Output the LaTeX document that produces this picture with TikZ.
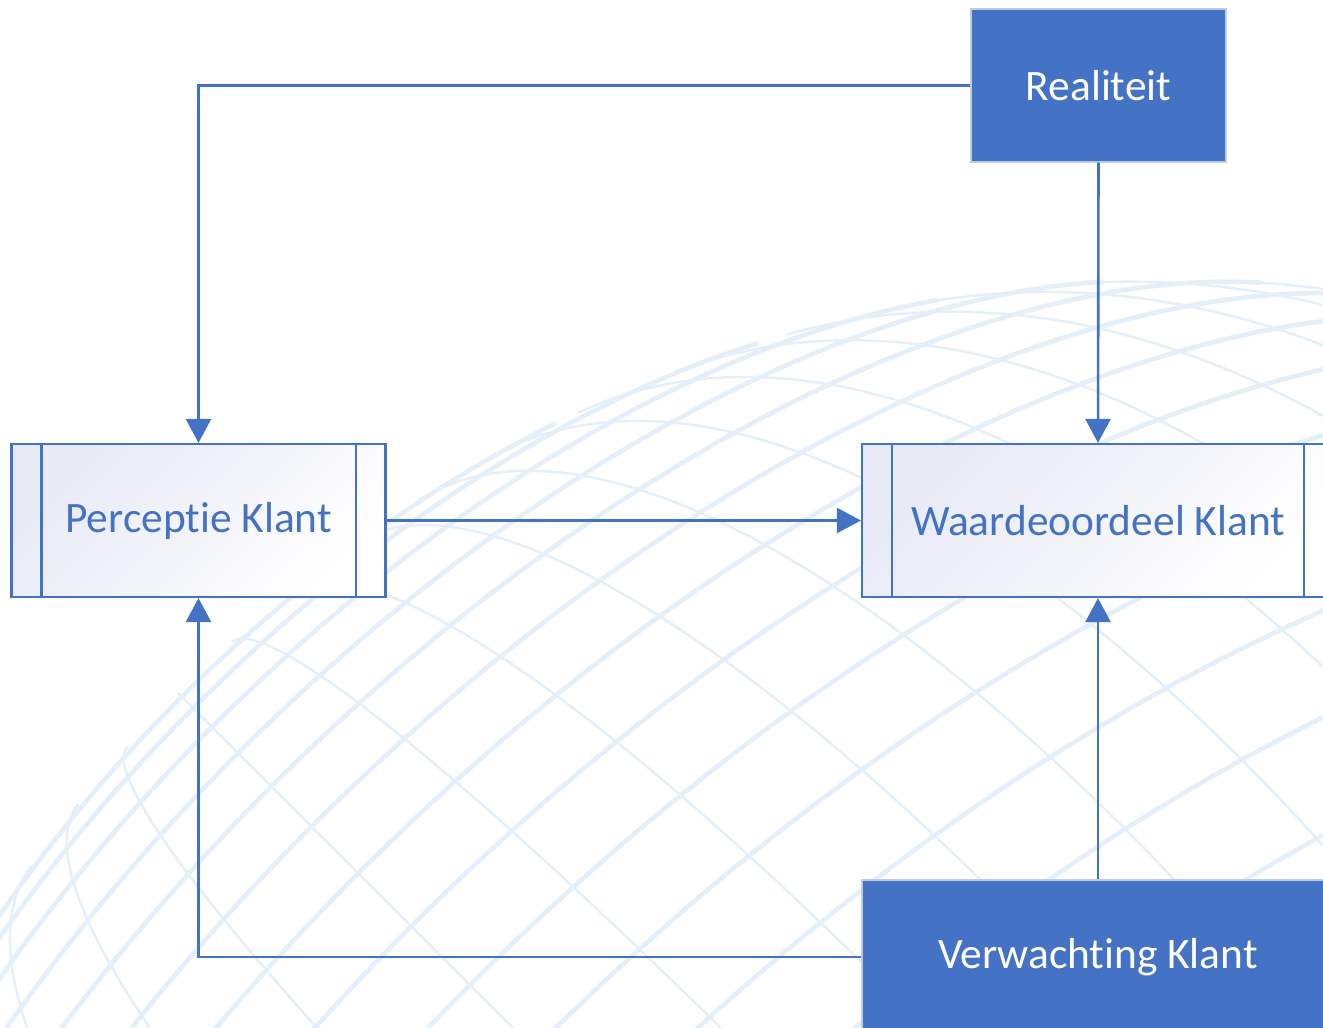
\documentclass[tikz,border=0pt]{standalone}
\usepackage{fontspec}
\setmainfont{Carlito}[RawFeature={-liga}]
\usetikzlibrary{arrows.meta}
\definecolor{accent}{HTML}{4472C4}
\definecolor{lav}{HTML}{E7E9F5}
\definecolor{globec}{HTML}{E4EFF9}
\definecolor{edgec}{HTML}{BFCBE2}
\begin{document}
\begin{tikzpicture}[x=0.5pt,y=-0.5pt,
  conn/.style={draw=accent, line width=1.3pt, -{Triangle[length=12pt,width=12.5pt]}},
  procbox/.style={draw=accent, line width=1.1pt, top color=lav, bottom color=white, shading angle=45, minimum height=76.5pt, inner sep=0pt, text=accent, font=\fontsize{21.7}{26}\selectfont},
  fillbox/.style={fill=accent, draw=edgec, line width=0.6pt, inner sep=0pt, text=white, font=\fontsize{21.7}{26}\selectfont},
  globeline/.style={draw=globec, line width=2.3pt},
  globethin/.style={draw=globec, line width=1.2pt}
]
\useasboundingbox (0,0) rectangle (1323,1028);
\clip (0,0) rectangle (1323,1028);
\fill[white] (0,0) rectangle (1323,1028);

% faint globe in the background
\begin{scope}
\def\gcx{1175}\def\gcy{1690}\def\gR{1410}
\pgfmathsetmacro\gsa{sin(30)}\pgfmathsetmacro\gca{cos(30)}
\pgfmathsetmacro\grc{cos(45)}\pgfmathsetmacro\grs{sin(45)}
\foreach \ph in {-30,-25,...,55} {
  \pgfmathsetmacro\tv{tan(\ph)*\gsa/\gca}
  \pgfmathsetmacro\lm{\tv<=-1 ? 180 : acos(\tv)}
  \draw[globeline] plot[domain=-\lm:\lm, samples=90, variable=\l, smooth]
    ({\gcx + \gR*cos(\ph)*sin(\l)*\grc - \gR*(sin(\ph)*\gca+cos(\ph)*cos(\l)*\gsa)*\grs},
     {\gcy - \gR*cos(\ph)*sin(\l)*\grs - \gR*(sin(\ph)*\gca+cos(\ph)*cos(\l)*\gsa)*\grc});
}
\foreach \lo in {-114,-108,...,114} {
  \pgfmathsetmacro\pm{atan(\gca*cos(\lo)/\gsa)}
  \draw[globethin] plot[domain=-90:\pm, samples=90, variable=\p, smooth]
    ({\gcx + \gR*cos(\p)*sin(\lo)*\grc - \gR*(sin(\p)*\gca+cos(\p)*cos(\lo)*\gsa)*\grs},
     {\gcy - \gR*cos(\p)*sin(\lo)*\grs - \gR*(sin(\p)*\gca+cos(\p)*cos(\lo)*\gsa)*\grc});
}
\end{scope}

% nodes
\node[fillbox, minimum width=127.5pt, minimum height=76.5pt] (r) at (1098.5,85.5) {Realiteit};
\node[procbox, minimum width=187pt] (p) at (198.5,520.5) {Perceptie Klant};
\node[procbox, minimum width=236pt] (w) at (1098,520.5) {Waardeoordeel Klant};
\node[fillbox, minimum width=236pt, minimum height=77pt] (v) at (1098,957) {Verwachting Klant};

\foreach \n in {p,w} {
  \draw[accent, line width=1.1pt] ([xshift=15.5pt]\n.north west) -- ([xshift=15.5pt]\n.south west);
  \draw[accent, line width=1.1pt] ([xshift=-15.5pt]\n.north east) -- ([xshift=-15.5pt]\n.south east);
}

% connectors
\draw[conn] (r.west) -| (p.north);
\draw[conn] (r.south) -- (w.north);
\draw[conn] (p.east) -- (w.west);
\draw[conn] (v.north) -- (w.south);
\draw[conn] (v.west) -| (p.south);
\end{tikzpicture}
\end{document}
